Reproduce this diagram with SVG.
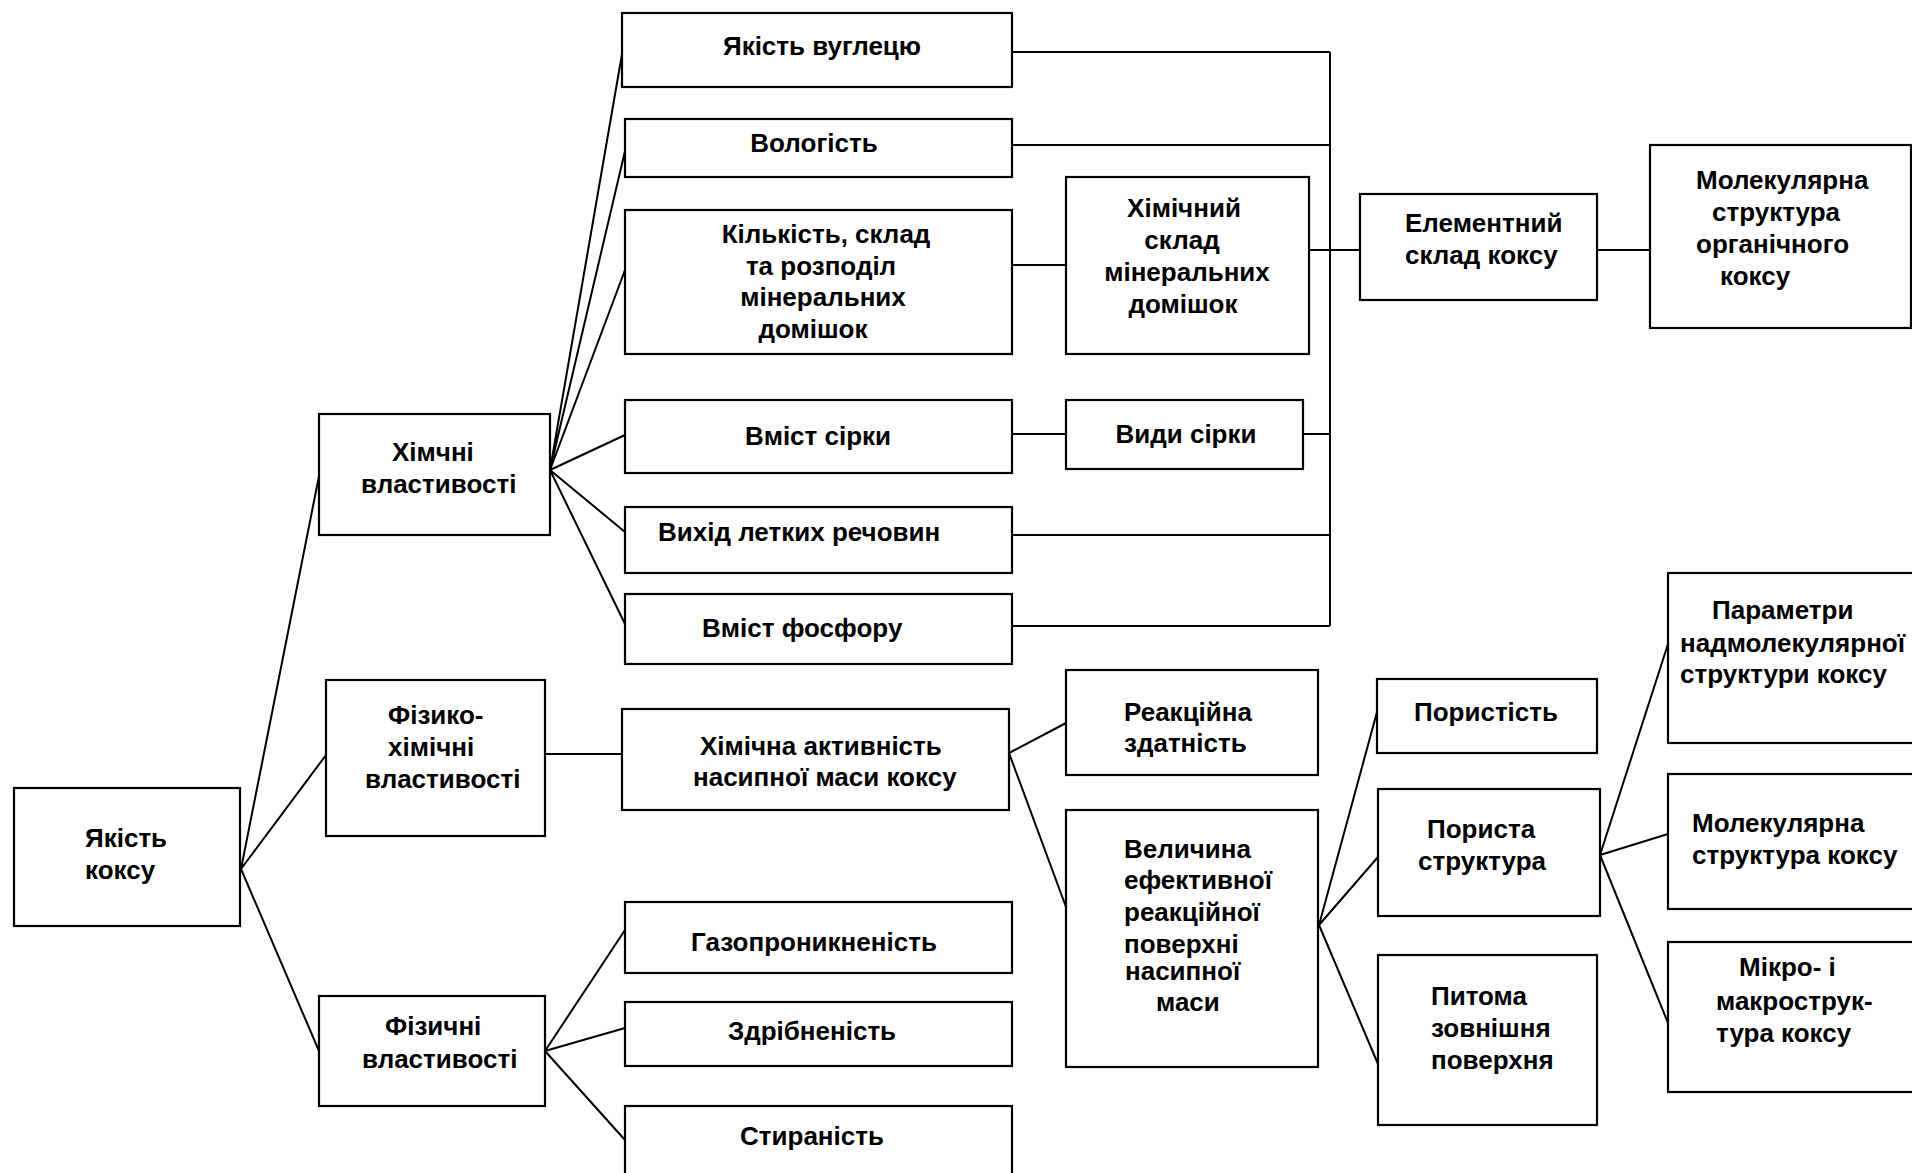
<svg xmlns="http://www.w3.org/2000/svg" width="1912" height="1173" viewBox="0 0 1912 1173">
<style>
.b{fill:#fff;stroke:#000;stroke-width:2.2}
.c{fill:none;stroke:#000;stroke-width:2}
text{font-family:"Liberation Sans",Arial,sans-serif;font-weight:bold;font-size:26px;fill:#000}
.m{text-anchor:middle}
</style>
<rect width="1912" height="1173" fill="#fff"/>
<g id="connectors">
<path class="c" d="M241,869 L319,476 M241,869 L326,755 M241,869 L319,1051"/>
<path class="c" d="M550,470 L622,54 M550,470 L625,151 M550,470 L625,270 M550,470 L625,435 M550,470 L625,532 M550,470 L625,624"/>
<path class="c" d="M545,1051 L625,930 M545,1051 L625,1028 M545,1051 L625,1140"/>
<path class="c" d="M545,754 L622,754"/>
<path class="c" d="M1009,753 L1066,723 M1009,753 L1066,907"/>
<path class="c" d="M1319,925 L1377,712 M1319,925 L1378,857 M1319,925 L1378,1064"/>
<path class="c" d="M1600,855 L1668,644 M1600,855 L1668,834 M1600,855 L1668,1023"/>
<path class="c" d="M1012,265 L1066,265 M1012,434 L1066,434"/>
<path class="c" d="M1012,52 L1330,52 M1012,145 L1330,145 M1012,535 L1330,535 M1012,626 L1330,626 M1309,250 L1360,250 M1303,434 L1330,434 M1330,52 L1330,626"/>
<path class="c" d="M1597,250 L1650,250"/>
</g>
<g id="n-yakist-koksu"><rect class="b" x="14" y="788" width="226" height="138"/><text x="85" y="847">Якість</text><text x="85" y="879">коксу</text></g>
<g id="n-khimchni"><rect class="b" x="319" y="414" width="231" height="121"/><text x="392" y="461">Хімчні</text><text x="361" y="493">властивості</text></g>
<g id="n-fizyko"><rect class="b" x="326" y="680" width="219" height="156"/><text x="388" y="724">Фізико-</text><text x="388" y="756">хімічні</text><text x="365" y="788">властивості</text></g>
<g id="n-fizychni"><rect class="b" x="319" y="996" width="226" height="110"/><text x="385" y="1035">Фізичні</text><text x="362" y="1068">властивості</text></g>
<g id="n-vuglets"><rect class="b" x="622" y="13" width="390" height="74"/><text class="m" x="822" y="55">Якість вуглецю</text></g>
<g id="n-vologist"><rect class="b" x="625" y="119" width="387" height="58"/><text class="m" x="814" y="152">Вологість</text></g>
<g id="n-kilkist"><rect class="b" x="625" y="210" width="387" height="144"/><text class="m" x="826" y="243">Кількість, склад</text><text class="m" x="821" y="275">та розподіл</text><text class="m" x="823" y="306">мінеральних</text><text class="m" x="813" y="338">домішок</text></g>
<g id="n-khim-sklad"><rect class="b" x="1066" y="177" width="243" height="177"/><text class="m" x="1184" y="217">Хімічний</text><text class="m" x="1182" y="249">склад</text><text class="m" x="1187" y="281">мінеральних</text><text class="m" x="1183" y="313">домішок</text></g>
<g id="n-vmist-sirky"><rect class="b" x="625" y="400" width="387" height="73"/><text class="m" x="818" y="445">Вміст сірки</text></g>
<g id="n-vydy-sirky"><rect class="b" x="1066" y="400" width="237" height="69"/><text class="m" x="1186" y="443">Види сірки</text></g>
<g id="n-vykhid"><rect class="b" x="625" y="507" width="387" height="66"/><text x="658" y="541">Вихід летких речовин</text></g>
<g id="n-fosfor"><rect class="b" x="625" y="594" width="387" height="70"/><text x="702" y="637">Вміст фосфору</text></g>
<g id="n-elementnyi"><rect class="b" x="1360" y="194" width="237" height="106"/><text x="1405" y="232">Елементний</text><text x="1405" y="264">склад коксу</text></g>
<g id="n-molek-org"><rect class="b" x="1650" y="145" width="261" height="183"/><text x="1696" y="189">Молекулярна</text><text x="1712" y="221">структура</text><text x="1696" y="253">органічного</text><text x="1720" y="285">коксу</text></g>
<g id="n-khim-aktyvnist"><rect class="b" x="622" y="709" width="387" height="101"/><text x="700" y="755">Хімічна активність</text><text x="693" y="786">насипної маси коксу</text></g>
<g id="n-reaktsiina"><rect class="b" x="1066" y="670" width="252" height="105"/><text x="1124" y="721">Реакційна</text><text x="1124" y="752">здатність</text></g>
<g id="n-velychyna"><rect class="b" x="1066" y="810" width="252" height="257"/><text x="1124" y="858">Величина</text><text x="1124" y="889">ефективної</text><text x="1124" y="921">реакційної</text><text x="1124" y="953">поверхні</text><text x="1125" y="980">насипної</text><text x="1156" y="1011">маси</text></g>
<g id="n-gazo"><rect class="b" x="625" y="902" width="387" height="71"/><text class="m" x="814" y="951">Газопроникненість</text></g>
<g id="n-zdribn"><rect class="b" x="625" y="1002" width="387" height="64"/><text class="m" x="812" y="1040">Здрібненість</text></g>
<g id="n-styran"><rect class="b" x="625" y="1106" width="387" height="80"/><text class="m" x="812" y="1145">Стираність</text></g>
<g id="n-porystist"><rect class="b" x="1377" y="679" width="220" height="74"/><text class="m" x="1486" y="721">Пористість</text></g>
<g id="n-porysta"><rect class="b" x="1378" y="789" width="222" height="127"/><text x="1427" y="838">Пориста</text><text x="1418" y="870">структура</text></g>
<g id="n-pytoma"><rect class="b" x="1378" y="955" width="219" height="170"/><text x="1431" y="1005">Питома</text><text x="1431" y="1037">зовнішня</text><text x="1431" y="1069">поверхня</text></g>
<g id="n-parametry"><rect class="b" x="1668" y="573" width="260" height="170"/><text x="1712" y="619">Параметри</text><text x="1680" y="652">надмолекулярної</text><text x="1680" y="683">структури коксу</text></g>
<g id="n-molek-koksu"><rect class="b" x="1668" y="774" width="260" height="135"/><text x="1692" y="832">Молекулярна</text><text x="1692" y="864">структура коксу</text></g>
<g id="n-mikro"><rect class="b" x="1668" y="942" width="260" height="150"/><text x="1739" y="976">Мікро- і</text><text x="1716" y="1010">макрострук-</text><text x="1716" y="1042">тура коксу</text></g>
</svg>
